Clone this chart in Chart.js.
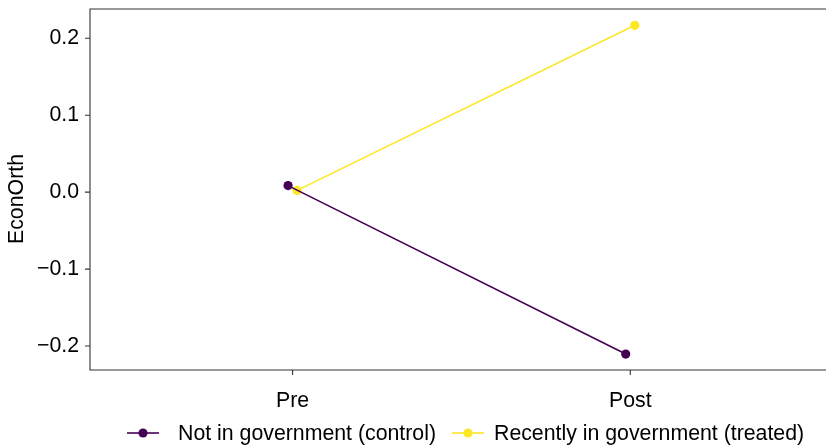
<!DOCTYPE html>
<html>
<head>
<meta charset="utf-8">
<script src="https://cdn.jsdelivr.net/npm/chart.js@4/dist/chart.umd.min.js"></script>
<style>
  html, body { margin: 0; padding: 0; background: #fff; overflow: hidden; }
</style>
</head>
<body>
<canvas id="chart" width="826" height="447"></canvas>
<script>
// Mean EconOrth score before and after, by government status
const periods = ['Pre', 'Post'];
const controlValues = [0.0085, -0.2105];
const treatedValues = [0.0023, 0.2169];
const seriesNames = ['Not in government (control)', 'Recently in government (treated)'];
const seriesColors = ['#440154', '#FDE725'];
const yTicks = [-0.2, -0.1, 0.0, 0.1, 0.2];
const yTitle = 'EconOrth';

const FONT = '"Liberation Sans", Arial, Helvetica, sans-serif';
const FONT_SIZE = 21.3;
const AXIS_COLOR = '#333333';
const TICK_LEN = 5;
const DODGE = 0.0135; // horizontal offset between the two groups

function toPoints(values, offset) {
  return values.map((v, i) => ({ x: i + 1 + offset, y: v }));
}

const datasets = [controlValues, treatedValues].map((vals, k) => ({
  label: seriesNames[k],
  data: toPoints(vals, k === 0 ? -DODGE : DODGE),
  borderColor: seriesColors[k],
  backgroundColor: seriesColors[k],
  borderWidth: 1.6,
  pointRadius: 4.6,
  pointHoverRadius: 4.6,
  pointBorderWidth: 0,
  tension: 0
}));

// Panel frame (left, bottom, top, open on the right), tick marks,
// rotated y title and the line+dot legend
const decor = {
  id: 'decor',
  afterDraw(chart) {
    const { ctx, chartArea, scales } = chart;
    const W = chart.width;
    ctx.save();
    ctx.strokeStyle = AXIS_COLOR;
    ctx.lineWidth = 1.1;
    ctx.beginPath();
    ctx.moveTo(W, chartArea.top);
    ctx.lineTo(chartArea.left, chartArea.top);
    ctx.lineTo(chartArea.left, chartArea.bottom);
    ctx.lineTo(W, chartArea.bottom);
    yTicks.forEach(v => {
      const py = scales.y.getPixelForValue(v);
      ctx.moveTo(chartArea.left - TICK_LEN, py);
      ctx.lineTo(chartArea.left, py);
    });
    periods.forEach((p, i) => {
      const px = scales.x.getPixelForValue(i + 1);
      ctx.moveTo(px, chartArea.bottom);
      ctx.lineTo(px, chartArea.bottom + TICK_LEN);
    });
    ctx.stroke();

    ctx.fillStyle = '#000';
    ctx.font = FONT_SIZE + 'px ' + FONT;
    ctx.textAlign = 'center';
    ctx.textBaseline = 'middle';
    ctx.translate(17, 199);
    ctx.rotate(-Math.PI / 2);
    ctx.fillText(yTitle, 0, 0);
    ctx.restore();

    const keyX = [127, 452];
    const textX = [178, 494];
    const y = 433;
    ctx.save();
    ctx.font = FONT_SIZE + 'px ' + FONT;
    ctx.textBaseline = 'middle';
    ctx.textAlign = 'left';
    seriesNames.forEach((name, k) => {
      ctx.strokeStyle = seriesColors[k];
      ctx.fillStyle = seriesColors[k];
      ctx.lineWidth = 1.6;
      ctx.beginPath();
      ctx.moveTo(keyX[k], y);
      ctx.lineTo(keyX[k] + 32, y);
      ctx.stroke();
      ctx.beginPath();
      ctx.arc(keyX[k] + 16, y, 4.6, 0, Math.PI * 2);
      ctx.fill();
      ctx.fillStyle = '#000';
      ctx.fillText(name, textX[k], y + 1);
    });
    ctx.restore();
  }
};

new Chart(document.getElementById('chart'), {
  type: 'line',
  data: { datasets },
  options: {
    responsive: false,
    animation: false,
    events: [],
    layout: { padding: { top: 9, right: 0, bottom: 37, left: 0 } },
    plugins: { legend: { display: false }, tooltip: { enabled: false } },
    scales: {
      x: {
        type: 'linear',
        min: 0.4,
        max: 2.566,
        afterBuildTicks(scale) { scale.ticks = periods.map((p, i) => ({ value: i + 1 })); },
        afterFit(scale) {
          scale.height = 40;
          scale.paddingLeft = 0;
          scale.paddingRight = 0;
        },
        ticks: {
          autoSkip: false,
          maxRotation: 0,
          padding: 10,
          color: '#000',
          font: { family: FONT, size: FONT_SIZE },
          callback: (v) => periods[Math.round(v) - 1] || ''
        },
        grid: { display: false },
        border: { display: false }
      },
      y: {
        type: 'linear',
        min: -0.2312,
        max: 0.2381,
        afterBuildTicks(scale) { scale.ticks = yTicks.map(v => ({ value: v })); },
        afterFit(scale) {
          scale.width = 90;
          scale.paddingTop = 0;
          scale.paddingBottom = 0;
          scale.paddingLeft = 0;
          scale.paddingRight = 0;
        },
        ticks: {
          padding: 3,
          color: '#000',
          font: { family: FONT, size: FONT_SIZE },
          callback: (v) => (v < 0 ? '\u2212' : '') + Math.abs(v).toFixed(1)
        },
        grid: { display: false },
        border: { display: false }
      }
    }
  },
  plugins: [decor]
});
</script>
</body>
</html>
